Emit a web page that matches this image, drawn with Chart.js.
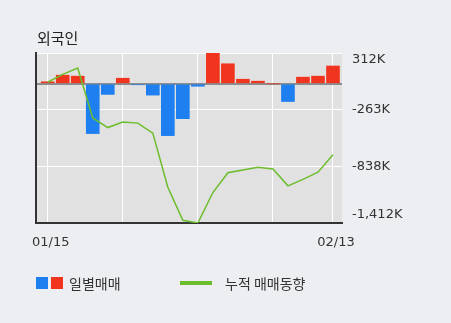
<!DOCTYPE html>
<html>
<head>
<meta charset="utf-8">
<script src="https://cdn.jsdelivr.net/npm/chart.js@4"></script>
<style>
  html, body { margin: 0; padding: 0; background: #eceef1; }
  #wrap { position: relative; width: 451px; height: 323px; overflow: hidden; }
  #chart { position: absolute; left: 0; top: 0; }
  .title { position: absolute; left: 37px; top: 29px; font: 15px "Noto Sans CJK KR"; line-height: 18px; color: #222; }
  .legend { position: absolute; top: 275px; height: 16px; font: 14px "Noto Sans CJK KR"; line-height: 16px; color: #333; }
  .sq { position: absolute; top: 2px; width: 12px; height: 12px; }
  .ln { position: absolute; top: 6px; width: 32px; height: 4px; background: #6cbd2b; }
</style>
</head>
<body>
<div id="wrap">
  <canvas id="chart" width="451" height="323"></canvas>
  <div class="title">외국인</div>
  <div class="legend" style="left:36px">
    <span class="sq" style="left:0; background:#1e7ff0"></span>
    <span class="sq" style="left:15px; background:#f0341e"></span>
    <span style="position:absolute; left:33px; white-space:nowrap">일별매매</span>
  </div>
  <div class="legend" style="left:180px">
    <span class="ln" style="left:0"></span>
    <span style="position:absolute; left:45px; white-space:nowrap">누적 매매동향</span>
  </div>
</div>
<script>
// trading days shown (only first and last are labelled)
const dates = ["01/15", "01/16", "01/17", "01/20", "01/21", "01/22", "01/23", "01/28", "01/29", "01/30",
               "01/31", "02/03", "02/04", "02/05", "02/06", "02/07", "02/10", "02/11", "02/12", "02/13"];

// daily net buying of foreigners, in K shares
const dailyNet = [20, 87, 77, -505, -108, 56, -10, -115, -526, -354,
                  -25, 313, 203, 46, 26, 0, -180, 67, 77, 180];

// cumulative trend, in K shares
const cumNet = [15, 95, 160, -347, -444, -388, -399, -501, -1050, -1385,
                -1412, -1103, -902, -874, -847, -864, -1035, -969, -897, -721];

const yTicks = [312, 0, -263, -838, -1412];
const xGridAt = [0, 5, 10, 15, 19];

function fmtK(v) {
    return v.toLocaleString("en-US") + "K";
}

// grey plot background
const plotBg = {
    id: "plotBg",
    beforeDraw(chart) {
        const a = chart.chartArea, ctx = chart.ctx;
        ctx.save();
        ctx.fillStyle = "#e1e1e1";
        ctx.fillRect(a.left, a.top, a.right - a.left, a.bottom - a.top);
        ctx.restore();
    }
};

// right axis labels, kept inside the plot height like the original
const yLabels = {
    id: "yLabels",
    afterDraw(chart) {
        const s = chart.scales.y, a = chart.chartArea, ctx = chart.ctx;
        ctx.save();
        ctx.font = "13px 'DejaVu Sans'";
        ctx.fillStyle = "#333";
        ctx.textBaseline = "middle";
        s.ticks.forEach(t => {
            if (t.value === 0) return;
            let y = s.getPixelForValue(t.value);
            y = Math.min(Math.max(y, a.top + 7), a.bottom - 8);
            ctx.fillText(fmtK(t.value), a.right + 10, y);
        });
        ctx.restore();
    }
};

Chart.defaults.font.family = "'DejaVu Sans'";
Chart.defaults.font.size = 13;
Chart.defaults.color = "#333";

new Chart(document.getElementById("chart"), {
    type: "bar",
    data: {
        datasets: [
            {
                type: "line",
                label: "누적 매매동향",
                data: cumNet.map((v, i) => ({ x: i, y: v })),
                xAxisID: "x",
                yAxisID: "y",
                borderColor: "#6cbd2b",
                borderWidth: 1.5,
                pointRadius: 0,
                tension: 0,
                order: 0
            },
            {
                type: "bar",
                label: "일별매매",
                data: dailyNet.map((v, i) => ({ x: i, y: v })),
                xAxisID: "x",
                yAxisID: "y",
                backgroundColor: ctx => (ctx.raw && ctx.raw.y < 0 ? "#1e7ff0" : "#f0341e"),
                barThickness: 13,
                order: 1
            }
        ]
    },
    options: {
        responsive: false,
        animation: false,
        layout: { padding: { top: 53, left: 0, right: 0, bottom: 0 } },
        plugins: {
            legend: { display: false },
            tooltip: { enabled: false },
            title: { display: false }
        },
        scales: {
            x: {
                type: "linear",
                offset: false,
                min: -0.78,
                max: 19.6,
                afterBuildTicks: s => { s.ticks = xGridAt.map(v => ({ value: v })); },
                afterFit: s => { s.height = 100; },
                ticks: {
                    autoSkip: false,
                    maxRotation: 0,
                    padding: 12,
                    labelOffset: 3,
                    callback: v => (v === 0 || v === 19 ? dates[v] : "")
                },
                grid: { offset: false, color: "#ffffff", lineWidth: 1, drawTicks: false },
                border: { color: "#333333", width: 2 }
            },
            y: {
                position: "right",
                min: -1412,
                max: 312,
                afterBuildTicks: s => { s.ticks = yTicks.map(v => ({ value: v })); },
                afterFit: s => { s.width = 109; },
                ticks: { display: false },
                grid: {
                    drawTicks: false,
                    color: ctx => (ctx.tick && ctx.tick.value === 0 ? "#8c8c8c" : "#ffffff"),
                    lineWidth: ctx => (ctx.tick && ctx.tick.value === 0 ? 2 : 1)
                },
                border: { display: false }
            },
            yL: {
                position: "left",
                afterFit: s => { s.width = 36; },
                ticks: { display: false },
                grid: { drawOnChartArea: false, drawTicks: false },
                border: { color: "#333333", width: 2 }
            }
        }
    },
    plugins: [plotBg, yLabels]
});
</script>
</body>
</html>
